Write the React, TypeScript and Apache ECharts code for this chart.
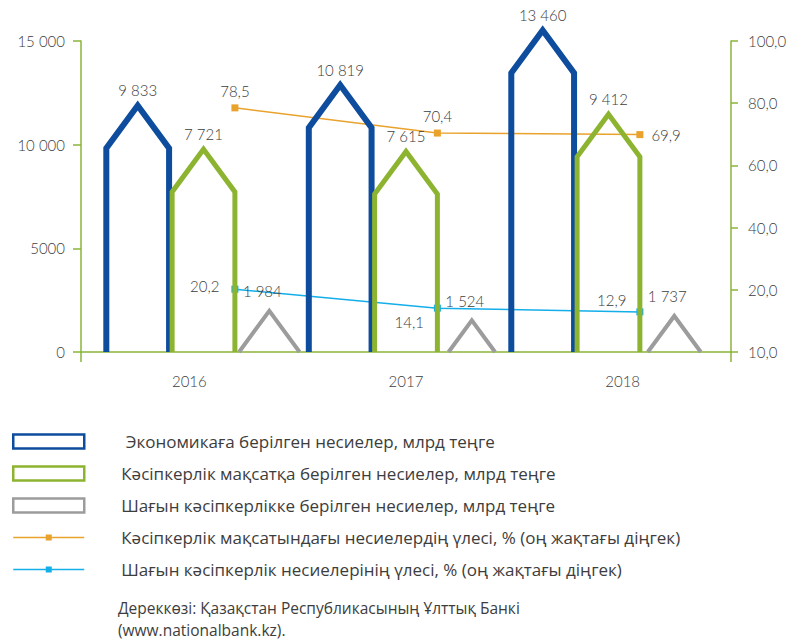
import React, { useEffect, useRef } from "react";
import * as echarts from "echarts";

const categories = ["2016", "2017", "2018"];
const economyLoans = [9833, 10819, 13460];
const businessLoans = [7721, 7615, 9412];
const smallBusinessLoans = [1984, 1524, 1737];
const businessShare = [78.5, 70.4, 69.9];
const smallBusinessShare = [20.2, 14.1, 12.9];
const leftTickLabels = ["0", "5000", "10 000", "15 000"];
const rightTickLabels = ["10,0", "20,0", "40,0", "60,0", "80,0", "100,0"];

const seriesNames = [
  " Экономикаға берілген несиелер, млрд теңге",
  "Кәсіпкерлік мақсатқа берілген несиелер, млрд теңге",
  "Шағын кәсіпкерлікке берілген несиелер, млрд теңге",
  "Кәсіпкерлік мақсатындағы несиелердің үлесі, % (оң жақтағы діңгек)",
  "Шағын кәсіпкерлік несиелерінің үлесі, % (оң жақтағы діңгек)",
];
const sourceLines = ["Дереккөзі: Қазақстан Республикасының Ұлттық Банкі", "(www.nationalbank.kz)."];

const BLUE = "#0E4C9E";
const GREEN = "#8DB431";
const GRAY = "#9C9C9D";
const ORANGE = "#E9A22C";
const CYAN = "#14AEE9";
const AXIS = "#8BB43A";
const TEXT = "#3d3d3d";
const FONT = "Lato, 'Open Sans', sans-serif";
const FONT2 = "'Open Sans', Lato, sans-serif";
const FW = 300;

const fmtInt = (v: number) => String(v).replace(/\B(?=(\d{3})+(?!\d))/g, " ");
const fmtPct = (v: number) => v.toFixed(1).replace(".", ",");

function houseRenderer(offset: number, width: number, color: string, lw: number, roofOnly: boolean, labelDx: number, labelGap: number) {
  return (params: any, api: any) => {
    const i = api.value(0);
    const v = api.value(1);
    const p = api.coord([i + offset, v]);
    const b = api.coord([i + offset, 0]);
    const unit = api.size([1, 0])[0];
    const cx = p[0];
    const half = (width * unit) / 2;
    const roofH = half * 1.36;
    const vy = p[1];
    const by = b[1];
    const sy = roofOnly ? vy + roofH : vy;
    const ty = sy - roofH;
    let pts: number[][];
    if (sy >= by) {
      const t = (sy - by) / (sy - ty);
      const hw = half * (1 - t);
      pts = [[cx - hw, by], [cx, ty], [cx + hw, by]];
    } else {
      pts = [[cx - half, by], [cx - half, sy], [cx, ty], [cx + half, sy], [cx + half, by]];
    }
    return {
      type: "group",
      children: [
        {
          type: "polyline",
          shape: { points: pts },
          style: { stroke: color, lineWidth: lw, fill: null, lineJoin: "miter", lineCap: "butt" },
        },
        {
          type: "text",
          x: cx + labelDx,
          y: ty - labelGap,
          style: {
            text: fmtInt(v),
            fill: TEXT,
            fontSize: 15,
            fontWeight: FW,
            fontFamily: FONT,
            align: "center",
            verticalAlign: "bottom",
          },
        },
      ],
    };
  };
}

const BAR_W = 0.31;
const BAR_STEP = 0.325;
const LINE_DX = 0.155;
const LINE_ICON = "path://M0,6.2H71V7.8H0Z M32.5,4H38.5V10H32.5Z";

const orangeLabelPos = [
  { position: "top", distance: 6 },
  { position: "top", distance: 6 },
  { position: "right", distance: 8 },
];
const cyanLabelPos = [
  { position: "left", distance: 12, offset: [0, -3] },
  { position: "left", distance: 10, offset: [0, 14] },
  { position: "left", distance: 10, offset: [0, -12] },
];

export default function App() {
  const ref = useRef<HTMLDivElement>(null);
  useEffect(() => {
    if (!ref.current) return;
    const chart = echarts.init(ref.current, undefined, { renderer: "svg" });
    const gridLeft = 81;
    const gridRight = 62;
    const gridTop = 41;
    const gridBottomPx = 352;
    const axisLabelStyle = { fontSize: 15, color: TEXT, fontFamily: FONT, fontWeight: FW };
    chart.setOption({
      animation: false,
      backgroundColor: "#ffffff",
      grid: { left: gridLeft, right: gridRight, top: gridTop, height: gridBottomPx - gridTop, containLabel: false },
      xAxis: [
        {
          type: "category",
          data: categories,
          axisLine: { show: true, lineStyle: { color: AXIS, width: 1.5 } },
          axisTick: { show: false },
          axisLabel: { ...axisLabelStyle, margin: 21 },
        },
        { type: "value", min: -0.605, max: 2.605, show: false },
      ],
      yAxis: [
        {
          type: "value",
          min: 0,
          max: 15000,
          interval: 5000,
          position: "left",
          axisLine: { show: true, onZero: false, lineStyle: { color: AXIS, width: 1.5 } },
          axisTick: { show: true, length: 8, lineStyle: { color: AXIS, width: 1.5 } },
          axisLabel: { ...axisLabelStyle, margin: 16, formatter: (v: number) => leftTickLabels[Math.round(v / 5000)] },
          splitLine: { show: false },
        },
        {
          type: "value",
          min: 0,
          max: 100,
          interval: 20,
          position: "right",
          axisLine: { show: true, onZero: false, lineStyle: { color: AXIS, width: 1.5 } },
          axisTick: { show: true, length: 7, lineStyle: { color: AXIS, width: 1.5 } },
          axisLabel: { ...axisLabelStyle, margin: 17, formatter: (v: number) => rightTickLabels[Math.round(v / 20)] },
          splitLine: { show: false },
        },
      ],
      legend: {
        orient: "vertical",
        left: 7,
        top: 428,
        itemWidth: 71,
        itemHeight: 14,
        itemGap: 15,
        selectedMode: false,
        textStyle: { fontSize: 17, color: TEXT, fontFamily: FONT2, fontWeight: "normal", padding: [0, 0, 0, 32] },
        data: [
          { name: seriesNames[0], icon: "rect", itemStyle: { color: "#fff", borderColor: BLUE, borderWidth: 2.5 } },
          { name: seriesNames[1], icon: "rect", itemStyle: { color: "#fff", borderColor: GREEN, borderWidth: 2.5 } },
          { name: seriesNames[2], icon: "rect", itemStyle: { color: "#fff", borderColor: GRAY, borderWidth: 2.5 } },
          { name: seriesNames[3], icon: LINE_ICON, itemStyle: { color: ORANGE } },
          { name: seriesNames[4], icon: LINE_ICON, itemStyle: { color: CYAN } },
        ],
      },
      graphic: [
        { type: "line", shape: { x1: gridLeft, y1: gridBottomPx, x2: gridLeft, y2: gridBottomPx + 10 }, style: { stroke: AXIS, lineWidth: 1.5 } },
        { type: "line", shape: { x1: 793 - gridRight, y1: gridBottomPx, x2: 793 - gridRight, y2: gridBottomPx + 10 }, style: { stroke: AXIS, lineWidth: 1.5 } },
        {
          type: "text",
          left: 118,
          top: 600,
          style: { text: sourceLines[0], fontSize: 15.5, fill: TEXT, fontFamily: FONT2, fontWeight: "normal" },
        },
        {
          type: "text",
          left: 118,
          top: 622,
          style: { text: sourceLines[1], fontSize: 15.5, fill: TEXT, fontFamily: FONT2, fontWeight: "normal" },
        },
      ],
      series: [
        {
          name: seriesNames[0],
          type: "custom",
          xAxisIndex: 1,
          z: 3,
          clip: false,
          itemStyle: { color: BLUE },
          encode: { x: 0, y: 1 },
          renderItem: houseRenderer(-BAR_STEP, BAR_W, BLUE, 6, false, 0, 8),
          data: economyLoans.map((v, i) => [i, v]),
        },
        {
          name: seriesNames[1],
          type: "custom",
          xAxisIndex: 1,
          z: 3,
          clip: false,
          itemStyle: { color: GREEN },
          encode: { x: 0, y: 1 },
          renderItem: houseRenderer(0, BAR_W, GREEN, 5, false, 0, 8),
          data: businessLoans.map((v, i) => [i, v]),
        },
        {
          name: seriesNames[2],
          type: "custom",
          xAxisIndex: 1,
          z: 3,
          clip: false,
          itemStyle: { color: GRAY },
          encode: { x: 0, y: 1 },
          renderItem: houseRenderer(BAR_STEP, BAR_W, GRAY, 4, true, -7, 12),
          data: smallBusinessLoans.map((v, i) => [i, v]),
        },
        {
          name: seriesNames[3],
          type: "line",
          xAxisIndex: 1,
          yAxisIndex: 1,
          z: 2,
          symbol: "rect",
          symbolSize: 7,
          lineStyle: { color: ORANGE, width: 1.5 },
          itemStyle: { color: ORANGE },
          label: { show: true, formatter: (p: any) => fmtPct(p.value[1]), fontSize: 15, color: TEXT, fontFamily: FONT, fontWeight: FW },
          data: businessShare.map((v, i) => ({ value: [i + LINE_DX, v], label: orangeLabelPos[i] })),
        },
        {
          name: seriesNames[4],
          type: "line",
          xAxisIndex: 1,
          yAxisIndex: 1,
          z: 2,
          symbol: "rect",
          symbolSize: 7,
          lineStyle: { color: CYAN, width: 1.5 },
          itemStyle: { color: CYAN },
          label: { show: true, formatter: (p: any) => fmtPct(p.value[1]), fontSize: 15, color: TEXT, fontFamily: FONT, fontWeight: FW },
          data: smallBusinessShare.map((v, i) => ({ value: [i + LINE_DX, v], label: cyanLabelPos[i] })),
        },
      ],
    });
    return () => chart.dispose();
  }, []);
  return <div ref={ref} style={{ position: "fixed", left: 0, top: 0, width: 793, height: 644, background: "#fff" }} />;
}
